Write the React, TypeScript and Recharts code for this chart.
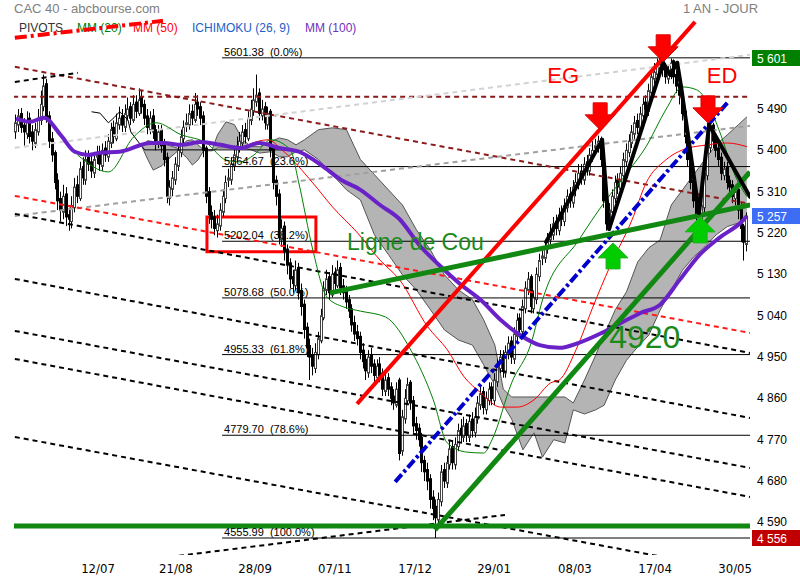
import React from "react";
import {
	Area,
	Bar,
	ComposedChart,
	Line,
	ReferenceArea,
	ReferenceDot,
	ReferenceLine,
	XAxis,
	YAxis,
} from "recharts";

// daily candles, one year of CAC 40
const opens = [
	5440, 5455, 5480, 5455, 5435, 5470, 5440, 5415, 5440, 5465,
	5495, 5545, 5475, 5425, 5395, 5335, 5295, 5265, 5305, 5260,
	5245, 5275, 5325, 5295, 5365, 5335, 5385, 5375, 5350, 5385,
	5395, 5365, 5405, 5385, 5415, 5450, 5425, 5455, 5475, 5450,
	5475, 5495, 5465, 5505, 5480, 5515, 5500, 5475, 5445, 5475,
	5445, 5415, 5445, 5415, 5385, 5295, 5315, 5335, 5365, 5395,
	5425, 5455, 5455, 5485, 5465, 5505, 5495, 5475, 5405, 5310,
	5265, 5255, 5225, 5235, 5265, 5295, 5335, 5335, 5365, 5385,
	5405, 5415, 5445, 5425, 5465, 5485, 5505, 5525, 5475, 5495,
	5455, 5485, 5405, 5335, 5305, 5205, 5235, 5185, 5155, 5125,
	5105, 5145, 5095, 5065, 5015, 4975, 4955, 4925, 4955, 4985,
	5035, 5095, 5125, 5085, 5135, 5105, 5145, 5105, 5095, 5075,
	5055, 5025, 5005, 4995, 4965, 4945, 4915, 4955, 4935, 4905,
	4935, 4915, 4875, 4905, 4885, 4865, 4845, 4900, 4745, 4815,
	4855, 4895, 4855, 4805, 4795, 4775, 4725, 4705, 4685, 4645,
	4625, 4595, 4635, 4705, 4675, 4715, 4755, 4715, 4755, 4795,
	4775, 4805, 4775, 4815, 4785, 4815, 4845, 4875, 4835, 4855,
	4885, 4855, 4895, 4925, 4955, 4915, 4955, 4985, 4945, 4995,
	5035, 5005, 5055, 5095, 5125, 5055, 5075, 5125, 5165, 5165,
	5185, 5205, 5215, 5245, 5225, 5265, 5245, 5275, 5305, 5285,
	5315, 5325, 5355, 5335, 5375, 5355, 5385, 5405, 5405, 5425,
	5375, 5295, 5235, 5265, 5295, 5335, 5315, 5345, 5375, 5395,
	5415, 5435, 5465, 5445, 5475, 5505, 5485, 5525, 5555, 5565,
	5585, 5595, 5580, 5555, 5565, 5595, 5565, 5545, 5525, 5485,
	5435, 5385, 5335, 5295, 5255, 5235, 5275, 5345, 5405, 5455,
	5425, 5405, 5385, 5345, 5365, 5335, 5325, 5295, 5315, 5275, 5235, 5195,
];
const highs = [
	5478, 5490, 5492, 5470, 5485, 5482, 5455, 5460, 5490, 5530,
	5565, 5555, 5485, 5440, 5400, 5350, 5310, 5325, 5320, 5275,
	5300, 5340, 5345, 5375, 5385, 5400, 5400, 5390, 5395, 5410,
	5410, 5415, 5420, 5435, 5460, 5465, 5480, 5495, 5490, 5500,
	5515, 5505, 5520, 5520, 5535, 5530, 5510, 5490, 5485, 5490,
	5455, 5455, 5455, 5425, 5395, 5335, 5355, 5385, 5415, 5445,
	5465, 5480, 5500, 5500, 5525, 5520, 5505, 5485, 5410, 5320,
	5280, 5270, 5260, 5285, 5315, 5345, 5360, 5385, 5410, 5430,
	5440, 5455, 5460, 5485, 5510, 5535, 5565, 5535, 5510, 5505,
	5495, 5490, 5410, 5345, 5315, 5250, 5245, 5195, 5165, 5140,
	5160, 5155, 5110, 5075, 5025, 4990, 4970, 4980, 5005, 5055,
	5115, 5140, 5135, 5150, 5145, 5160, 5155, 5120, 5105, 5085,
	5065, 5040, 5020, 5005, 4980, 4955, 4965, 4970, 4945, 4945,
	4950, 4925, 4915, 4915, 4895, 4880, 4895, 4905, 4835, 4880,
	4905, 4900, 4865, 4820, 4805, 4785, 4735, 4720, 4695, 4660,
	4640, 4655, 4715, 4720, 4735, 4770, 4765, 4775, 4805, 4815,
	4820, 4815, 4825, 4830, 4840, 4865, 4885, 4885, 4875, 4895,
	4895, 4915, 4945, 4965, 4965, 4975, 4995, 4995, 5015, 5045,
	5045, 5075, 5115, 5135, 5130, 5095, 5145, 5175, 5190, 5205,
	5220, 5240, 5255, 5260, 5275, 5280, 5295, 5315, 5320, 5335,
	5350, 5370, 5370, 5385, 5390, 5405, 5420, 5425, 5432, 5430,
	5385, 5305, 5285, 5315, 5345, 5350, 5365, 5395, 5415, 5435,
	5455, 5475, 5480, 5495, 5515, 5520, 5545, 5575, 5590, 5600,
	5601, 5600, 5590, 5585, 5600, 5598, 5575, 5555, 5535, 5495,
	5440, 5395, 5345, 5305, 5270, 5295, 5365, 5425, 5462, 5460,
	5435, 5415, 5395, 5375, 5375, 5345, 5335, 5325, 5320, 5285, 5240, 5265,
];
const lows = [
	5425, 5440, 5438, 5410, 5425, 5415, 5400, 5405, 5432, 5455,
	5485, 5460, 5405, 5375, 5315, 5270, 5245, 5250, 5235, 5225,
	5230, 5265, 5285, 5290, 5325, 5325, 5355, 5340, 5340, 5370,
	5355, 5355, 5375, 5375, 5405, 5415, 5420, 5445, 5440, 5440,
	5465, 5455, 5460, 5470, 5475, 5480, 5455, 5435, 5435, 5425,
	5400, 5405, 5395, 5365, 5285, 5280, 5300, 5325, 5355, 5385,
	5415, 5440, 5445, 5455, 5460, 5475, 5455, 5385, 5285, 5240,
	5230, 5215, 5210, 5225, 5255, 5285, 5320, 5325, 5355, 5375,
	5395, 5405, 5415, 5420, 5455, 5475, 5495, 5465, 5465, 5445,
	5445, 5385, 5315, 5280, 5195, 5190, 5160, 5130, 5100, 5090,
	5095, 5075, 5040, 4990, 4950, 4900, 4910, 4915, 4945, 4980,
	5030, 5085, 5075, 5080, 5095, 5100, 5085, 5075, 5055, 5035,
	5005, 4985, 4975, 4945, 4925, 4900, 4905, 4915, 4895, 4895,
	4895, 4865, 4865, 4865, 4845, 4835, 4840, 4725, 4735, 4805,
	4845, 4835, 4785, 4770, 4755, 4700, 4680, 4660, 4620, 4595,
	4556, 4585, 4625, 4665, 4665, 4705, 4705, 4705, 4745, 4765,
	4765, 4765, 4765, 4775, 4775, 4805, 4835, 4825, 4825, 4845,
	4845, 4845, 4885, 4915, 4905, 4905, 4945, 4935, 4935, 4985,
	4995, 4995, 5045, 5085, 5045, 5045, 5065, 5115, 5150, 5155,
	5175, 5195, 5205, 5215, 5215, 5235, 5235, 5265, 5275, 5275,
	5300, 5315, 5325, 5325, 5345, 5345, 5375, 5390, 5395, 5365,
	5275, 5225, 5225, 5255, 5285, 5305, 5305, 5335, 5365, 5385,
	5405, 5425, 5435, 5435, 5465, 5475, 5475, 5515, 5545, 5555,
	5570, 5560, 5545, 5545, 5555, 5545, 5525, 5500, 5465, 5415,
	5365, 5315, 5275, 5240, 5220, 5225, 5265, 5335, 5395, 5405,
	5385, 5365, 5335, 5335, 5315, 5305, 5285, 5280, 5250, 5200, 5160, 5180,
];
const closes = [
	5460, 5475, 5450, 5440, 5465, 5430, 5420, 5445, 5470, 5500,
	5540, 5470, 5420, 5390, 5330, 5290, 5270, 5300, 5255, 5250,
	5280, 5320, 5300, 5360, 5340, 5380, 5370, 5355, 5380, 5390,
	5370, 5400, 5390, 5420, 5445, 5430, 5460, 5470, 5455, 5480,
	5490, 5470, 5500, 5485, 5510, 5495, 5470, 5450, 5470, 5440,
	5420, 5440, 5410, 5380, 5300, 5320, 5340, 5370, 5400, 5430,
	5450, 5460, 5480, 5470, 5500, 5490, 5470, 5400, 5300, 5260,
	5250, 5230, 5240, 5270, 5300, 5330, 5340, 5370, 5390, 5410,
	5420, 5440, 5430, 5470, 5490, 5510, 5520, 5480, 5490, 5460,
	5480, 5400, 5330, 5300, 5210, 5230, 5180, 5150, 5120, 5110,
	5140, 5090, 5060, 5010, 4970, 4950, 4930, 4960, 4990, 5040,
	5100, 5120, 5090, 5130, 5110, 5140, 5100, 5090, 5070, 5050,
	5020, 5000, 4990, 4960, 4940, 4920, 4950, 4930, 4910, 4930,
	4910, 4880, 4900, 4880, 4860, 4850, 4880, 4740, 4820, 4860,
	4890, 4850, 4800, 4790, 4770, 4720, 4700, 4680, 4640, 4620,
	4600, 4640, 4700, 4680, 4720, 4750, 4720, 4760, 4790, 4780,
	4800, 4780, 4810, 4790, 4820, 4850, 4870, 4840, 4860, 4880,
	4860, 4900, 4930, 4950, 4920, 4960, 4980, 4950, 5000, 5030,
	5010, 5060, 5100, 5120, 5060, 5080, 5130, 5160, 5170, 5190,
	5200, 5220, 5240, 5230, 5260, 5250, 5280, 5300, 5290, 5320,
	5330, 5350, 5340, 5370, 5360, 5390, 5400, 5410, 5420, 5380,
	5290, 5240, 5270, 5300, 5330, 5320, 5350, 5380, 5400, 5420,
	5440, 5460, 5450, 5480, 5500, 5490, 5530, 5560, 5570, 5590,
	5590, 5575, 5560, 5570, 5590, 5560, 5540, 5520, 5480, 5430,
	5380, 5330, 5290, 5260, 5240, 5280, 5350, 5410, 5450, 5420,
	5400, 5380, 5350, 5360, 5330, 5320, 5300, 5310, 5270, 5230, 5200, 5257,
];

const dateTicks = [29.3, 57.1, 85.4, 113.9, 142.5, 170.7, 199.6, 228.2, 256.8];
const dateLabels = ["12/07", "21/08", "28/09", "07/11", "17/12", "29/01", "08/03", "17/04", "30/05"];
const priceTicks = [4590, 4680, 4770, 4860, 4950, 5040, 5130, 5220, 5310, 5400, 5490];

// [bar index, value]
const mm20 = [
	[22, 5390], [33, 5353], [42, 5429], [50, 5460], [59, 5434], [68, 5416], [75, 5379],
	[80, 5375], [85, 5390], [91, 5423], [98, 5401], [101, 5329], [106, 5183], [111, 5081],
	[117, 5059], [123, 5050], [132, 5037], [141, 4965], [149, 4857], [154, 4763], [161, 4743],
	[167, 4741], [170, 4770], [177, 4894], [184, 4981], [188, 5074], [201, 5205], [210, 5286],
	[219, 5357], [225, 5408], [232, 5488], [238, 5538], [243, 5532], [247, 5503], [251, 5445],
	[257, 5342], [261, 5299],
];
const mm50 = [
	[82, 5410], [90, 5423], [95, 5401], [106, 5329], [113, 5277], [122, 5220], [130, 5161],
	[137, 5118], [147, 5016], [154, 4966], [160, 4907], [166, 4872], [173, 4841], [179, 4841],
	[185, 4857], [191, 4894], [194, 4900], [200, 4966], [206, 5059], [212, 5146], [220, 5249],
	[225, 5329], [232, 5379], [238, 5401], [247, 5412], [254, 5416], [261, 5408],
];
const mm100 = [
	[0, 5469], [5, 5462], [10, 5471], [16, 5433], [21, 5397], [26, 5390], [30, 5395],
	[37, 5397], [48, 5416], [53, 5416], [59, 5412], [66, 5418], [73, 5412], [80, 5405],
	[87, 5416], [94, 5405], [101, 5397], [109, 5368], [116, 5336], [123, 5314], [130, 5281],
	[137, 5250], [144, 5194], [151, 5151], [159, 5107], [166, 5074], [173, 5031], [180, 4998],
	[187, 4976], [194, 4970], [201, 4981], [209, 5002], [216, 5024], [223, 5046], [230, 5064],
	[237, 5118], [244, 5172], [251, 5209], [259, 5244], [261, 5257],
];
const kijun = [
	[27, 5484], [30, 5481], [33, 5460], [35, 5471], [37, 5484], [40, 5466], [41, 5440],
	[44, 5416], [46, 5401], [100, 5401],
];
// [bar index, upper edge, lower edge]
const cloud = [
	[45, 5410, 5408], [47, 5421, 5381], [49, 5419, 5357], [52, 5416, 5366], [55, 5410, 5384],
	[58, 5404, 5400], [61, 5421, 5384], [63, 5423, 5368], [65, 5412, 5379], [67, 5401, 5399],
	[70, 5401, 5399], [72, 5434, 5405], [75, 5462, 5405], [78, 5456, 5405], [81, 5423, 5405],
	[84, 5408, 5401], [87, 5408, 5394], [91, 5419, 5397], [94, 5427, 5386], [97, 5423, 5386],
	[100, 5412, 5397], [103, 5423, 5401], [108, 5445, 5380], [113, 5449, 5347], [118, 5445, 5314],
	[123, 5380, 5292], [128, 5347, 5216], [133, 5314, 5173], [138, 5281, 5129], [143, 5227, 5096],
	[148, 5183, 5053], [153, 5129, 5009], [158, 5096, 4987], [163, 5075, 4976], [167, 5031, 4933],
	[171, 4976, 4889], [174, 4880, 4845], [177, 4863, 4815], [181, 4863, 4748], [185, 4863, 4785],
	[188, 4863, 4732], [192, 4863, 4770], [196, 4863, 4763], [199, 4850, 4835], [203, 4900, 4826],
	[207, 4954, 4835], [210, 4998, 4845], [214, 5053, 4900], [218, 5092, 4943], [222, 5157, 4972],
	[226, 5188, 4998], [230, 5205, 5052], [234, 5281, 5096], [238, 5314, 5139], [242, 5347, 5168],
	[246, 5380, 5190], [250, 5412, 5216], [254, 5434, 5234], [258, 5456, 5242], [261, 5473, 5248],
];

const fibLevels = [5601.38, 5364.67, 5202.04, 5078.68, 4955.33, 4779.7, 4555.99];
const fibPcts = ["0.0%", "23.6%", "38.2%", "50.0%", "61.8%", "78.6%", "100.0%"];

// trend lines: [x1, y1, x2, y2] in bar index / price
const darkRedLines = [
	[-1, 5516.5, 263, 5516.5],
	[-0.4, 5581.8, 262.1, 5283.4],
];
const blackDashLines = [
	[-0.4, 5549, 22.1, 5568.7],
	[-0.4, 5261.7, 262.1, 4959],
	[-0.4, 5120.1, 262.1, 4817.4],
	[-0.4, 5006.9, 262.1, 4708.6],
	[-0.4, 4945.9, 262.1, 4645.4],
	[-0.4, 4776, 231.1, 4514.7],
	[55, 4514.7, 174.6, 4606.3],
];
const lightGreyLine = [-0.4, 5405.4, 262.1, 5607.9];
const greyLine = [-0.4, 5257.3, 262.1, 5453.3];
const redDashLine = [-0.4, 5300.8, 262.1, 5002.5];
const pivotLine = [-0.4, 5644.9, 52.5, 5681.9];
const resistance = [121.8, 4847.9, 242.5, 5679.8];
const blueLine = [135.4, 4678.1, 254.3, 5505.6];
const neckline = [112.1, 5089.6, 262.1, 5281.2];
const greenRise = [149.6, 4573.5, 262.1, 5353.1];
const greenFloor = [-1, 4582.2, 263, 4582.2];
const zigzag = [
	[189.3, 5200.7], [209.3, 5422.8], [211.8, 5229], [231.1, 5590.5], [233.6, 5564.4],
	[236.1, 5590.5], [237.5, 5538.2], [243.9, 5263.8], [247.5, 5455.5], [262.1, 5298.7],
];
const downArrows = [[231.1, 5592.7], [208.6, 5444.6], [247.1, 5459.8]];
const upArrows = [[213.2, 5198.5], [244.3, 5255.1]];
const lastValues = [5601, 5257, 4556];

const FONT = "'Liberation Sans', Arial, sans-serif";
const NARROW = "'Liberation Sans Narrow', 'Arial Narrow', 'DejaVu Sans Condensed', sans-serif";

const data: any[] = closes.map((c, i) => ({
	i,
	o: opens[i],
	h: highs[i],
	l: lows[i],
	c,
	hl: [lows[i], highs[i]],
}));
mm20.forEach(([i, v]) => (data[i].mm20 = v));
mm50.forEach(([i, v]) => (data[i].mm50 = v));
mm100.forEach(([i, v]) => (data[i].mm100 = v));
kijun.forEach(([i, v]) => (data[i].kijun = v));
cloud.forEach(([i, a, b]) => (data[i].cloud = [b, a]));

const fmt = (v: number) => String(v).replace(/(\d)(\d{3})$/, "$1 $2");

const Candle = (props: any) => {
	const { x, y, width, height, payload } = props;
	if (!payload || height == null || isNaN(y)) return null;
	const { o, h, l, c } = payload;
	const top = Math.min(y, y + height);
	const hgt = Math.abs(height);
	const cx = Math.floor(x + width / 2) + 0.5;
	const k = hgt / (h - l || 1);
	const yo = top + (h - o) * k;
	const yc = top + (h - c) * k;
	const up = c >= o;
	return (
		<g>
			<line x1={cx} x2={cx} y1={top} y2={top + hgt} stroke="#000" strokeWidth={1} />
			<rect
				x={cx - 1}
				y={Math.min(yo, yc)}
				width={2}
				height={Math.max(Math.abs(yc - yo), 1)}
				fill={up ? "#fff" : "#000"}
				stroke={up ? "#444" : "#000"}
				strokeWidth={1}
			/>
		</g>
	);
};

const PriceTick = (p: any) => (
	<text x={757} y={p.y + 4} fontSize={12} fontFamily={FONT} fill="#000">
		{fmt(p.payload.value)}
	</text>
);

const DateTick = (p: any) => (
	<text x={p.x} y={573} textAnchor="middle" fontSize={13} fontFamily={NARROW} fill="#000">
		{dateLabels[dateTicks.indexOf(p.payload.value)]}
	</text>
);

const arrowDown = (cx: number, cy: number) => (
	<polygon
		points={`${cx},${cy} ${cx - 15},${cy - 15} ${cx - 7},${cy - 15} ${cx - 7},${cy - 27} ${cx + 7},${cy - 27} ${cx + 7},${cy - 15} ${cx + 15},${cy - 15}`}
		fill="#ff0000"
		stroke="#e00000"
		strokeWidth={1}
	/>
);
const arrowUp = (cx: number, cy: number) => (
	<polygon
		points={`${cx},${cy} ${cx - 15},${cy + 15} ${cx - 7},${cy + 15} ${cx - 7},${cy + 26} ${cx + 7},${cy + 26} ${cx + 7},${cy + 15} ${cx + 15},${cy + 15}`}
		fill="#00cc00"
		stroke="#22b022"
		strokeWidth={1}
	/>
);

const seg = (s: number[]) => [
	{ x: s[0], y: s[1] },
	{ x: s[2], y: s[3] },
];

export default function App() {
	const boxColors = ["#008000", "#3d6cf5", "#c00000"];
	return (
		<div style={{ position: "absolute", left: 0, top: 0, width: 800, height: 580, background: "#fff", fontFamily: FONT }}>
			<div style={{ position: "absolute", left: 14, top: 1, fontSize: 13, color: "#808080" }}>CAC 40 - abcbourse.com</div>
			<div style={{ position: "absolute", left: 683, top: 1, fontSize: 13, color: "#808080" }}>1 AN - JOUR</div>
			<div style={{ position: "absolute", left: 19, top: 21, fontSize: 12, color: "#333" }}>PIVOTS</div>
			<div style={{ position: "absolute", left: 77, top: 21, fontSize: 12, color: "#008000" }}>MM (20)</div>
			<div style={{ position: "absolute", left: 133, top: 21, fontSize: 12, color: "#ff0000" }}>MM (50)</div>
			<div style={{ position: "absolute", left: 192, top: 21, fontSize: 12, color: "#1a5fc8" }}>ICHIMOKU (26, 9)</div>
			<div style={{ position: "absolute", left: 305, top: 21, fontSize: 12, color: "#7030c0" }}>MM (100)</div>
			<div style={{ position: "absolute", left: 0, top: 0 }}>
				<ComposedChart width={800} height={580} data={data} margin={{ top: 13, right: 0, bottom: 0, left: 14 }}>
					<XAxis
						type="number"
						dataKey="i"
						domain={[-0.7, 262.1]}
						allowDataOverflow
						ticks={dateTicks}
						interval={0}
						axisLine={false}
						tickLine={false}
						height={25}
						tick={<DateTick />}
					/>
					<YAxis
						orientation="right"
						domain={[4519, 5699]}
						allowDataOverflow
						ticks={priceTicks}
						interval={0}
						axisLine={false}
						tickLine={false}
						width={50}
						tick={<PriceTick />}
					/>
					<Area
						dataKey="cloud"
						connectNulls
						type="linear"
						fill="#b4b4b4"
						fillOpacity={1}
						stroke="#555"
						strokeWidth={1}
						isAnimationActive={false}
					/>
					{fibLevels.map((v) => (
						<ReferenceLine key={"f" + v} segment={seg([73.6, v, 262.1, v])} stroke="#000" strokeWidth={1} ifOverflow="hidden" />
					))}
					{darkRedLines.map((s, k) => (
						<ReferenceLine key={"dr" + k} segment={seg(s)} stroke="#8b1a1a" strokeWidth={2} strokeDasharray="5 4" ifOverflow="hidden" />
					))}
					<ReferenceLine segment={seg(lightGreyLine)} stroke="#d2d2d2" strokeWidth={2} strokeDasharray="5 4" ifOverflow="hidden" />
					<ReferenceLine segment={seg(greyLine)} stroke="#a0a0a0" strokeWidth={2} strokeDasharray="5 4" ifOverflow="hidden" />
					<ReferenceLine segment={seg(redDashLine)} stroke="#ff1a1a" strokeWidth={2} strokeDasharray="5 4" ifOverflow="hidden" />
					{blackDashLines.map((s, k) => (
						<ReferenceLine key={"bd" + k} segment={seg(s)} stroke="#000" strokeWidth={2} strokeDasharray="5 4" ifOverflow="hidden" />
					))}
					<Line dataKey="kijun" connectNulls type="linear" stroke="#000" strokeWidth={1} dot={false} isAnimationActive={false} />
					<Line dataKey="mm50" connectNulls type="monotone" stroke="#ff0000" strokeWidth={1} dot={false} isAnimationActive={false} />
					<Line dataKey="mm20" connectNulls type="monotone" stroke="#008000" strokeWidth={1} dot={false} isAnimationActive={false} />
					<Bar dataKey="hl" barSize={3} shape={<Candle />} isAnimationActive={false} />
					<Line dataKey="mm100" connectNulls type="monotone" stroke="#6a22c8" strokeWidth={4} dot={false} isAnimationActive={false} />
					<ReferenceLine segment={seg(pivotLine)} stroke="#ff0000" strokeWidth={4} strokeDasharray="12 4 3 4" ifOverflow="hidden" />
					<ReferenceLine segment={seg(resistance)} stroke="#ff0000" strokeWidth={4} ifOverflow="hidden" />
					<ReferenceLine segment={seg(blueLine)} stroke="#0000cc" strokeWidth={4} strokeDasharray="10 3 3 3" ifOverflow="hidden" />
					<ReferenceLine segment={seg(neckline)} stroke="#118811" strokeWidth={5} ifOverflow="hidden" />
					<ReferenceLine segment={seg(greenRise)} stroke="#118811" strokeWidth={5} ifOverflow="hidden" />
					<ReferenceLine segment={seg(greenFloor)} stroke="#118811" strokeWidth={5} ifOverflow="hidden" />
					{zigzag.slice(1).map((p, k) => (
						<ReferenceLine
							key={"z" + k}
							segment={[
								{ x: zigzag[k][0], y: zigzag[k][1] },
								{ x: p[0], y: p[1] },
							]}
							stroke="#000"
							strokeWidth={4}
							strokeLinecap="round"
							ifOverflow="hidden"
						/>
					))}
					<ReferenceArea x1={68.2} x2={107.1} y1={5179} y2={5255.1} fill="none" stroke="#ff0000" strokeWidth={3} ifOverflow="visible" />
					{fibLevels.map((v, k) => (
						<ReferenceDot
							key={"fl" + v}
							x={74.3}
							y={v}
							ifOverflow="visible"
							shape={(p: any) => (
								<text x={p.cx} y={p.cy - 2} fontSize={11} fontFamily={FONT} fill="#000" style={{ whiteSpace: "pre" }}>
									{v.toFixed(2) + "  (" + fibPcts[k] + ")"}
								</text>
							)}
						/>
					))}
					{downArrows.map(([x, y], k) => (
						<ReferenceDot key={"da" + k} x={x} y={y} ifOverflow="visible" shape={(p: any) => arrowDown(p.cx, p.cy)} />
					))}
					{upArrows.map(([x, y], k) => (
						<ReferenceDot key={"ua" + k} x={x} y={y} ifOverflow="visible" shape={(p: any) => arrowUp(p.cx, p.cy)} />
					))}
					<ReferenceDot x={195.4} y={5564.4} ifOverflow="visible" shape={(p: any) => (
						<text x={p.cx} y={p.cy + 8} textAnchor="middle" fontSize={22} fontFamily={FONT} fill="#ff0000">EG</text>
					)} />
					<ReferenceDot x={252.1} y={5564.4} ifOverflow="visible" shape={(p: any) => (
						<text x={p.cx} y={p.cy + 8} textAnchor="middle" fontSize={22} fontFamily={FONT} fill="#ff0000">ED</text>
					)} />
					<ReferenceDot x={118.2} y={5200.7} ifOverflow="visible" shape={(p: any) => (
						<text x={p.cx} y={p.cy + 8} fontSize={23} fontFamily={FONT} fill="#1a8a1a">Ligne de Cou</text>
					)} />
					<ReferenceDot x={211.8} y={4993.8} ifOverflow="visible" shape={(p: any) => (
						<text x={p.cx} y={p.cy + 11} fontSize={32} fontFamily={FONT} fill="#1a8a1a">4920</text>
					)} />
					{lastValues.map((v, k) => (
						<ReferenceDot key={"lv" + v} x={262.1} y={v} ifOverflow="visible" shape={(p: any) => (
							<g>
								<rect x={p.cx + 2} y={p.cy - 8} width={48} height={16} fill={boxColors[k]} />
								<text x={p.cx + 7} y={p.cy + 5} fontSize={12} fontFamily={FONT} fill="#fff">{fmt(v)}</text>
							</g>
						)} />
					))}
				</ComposedChart>
			</div>
		</div>
	);
}
